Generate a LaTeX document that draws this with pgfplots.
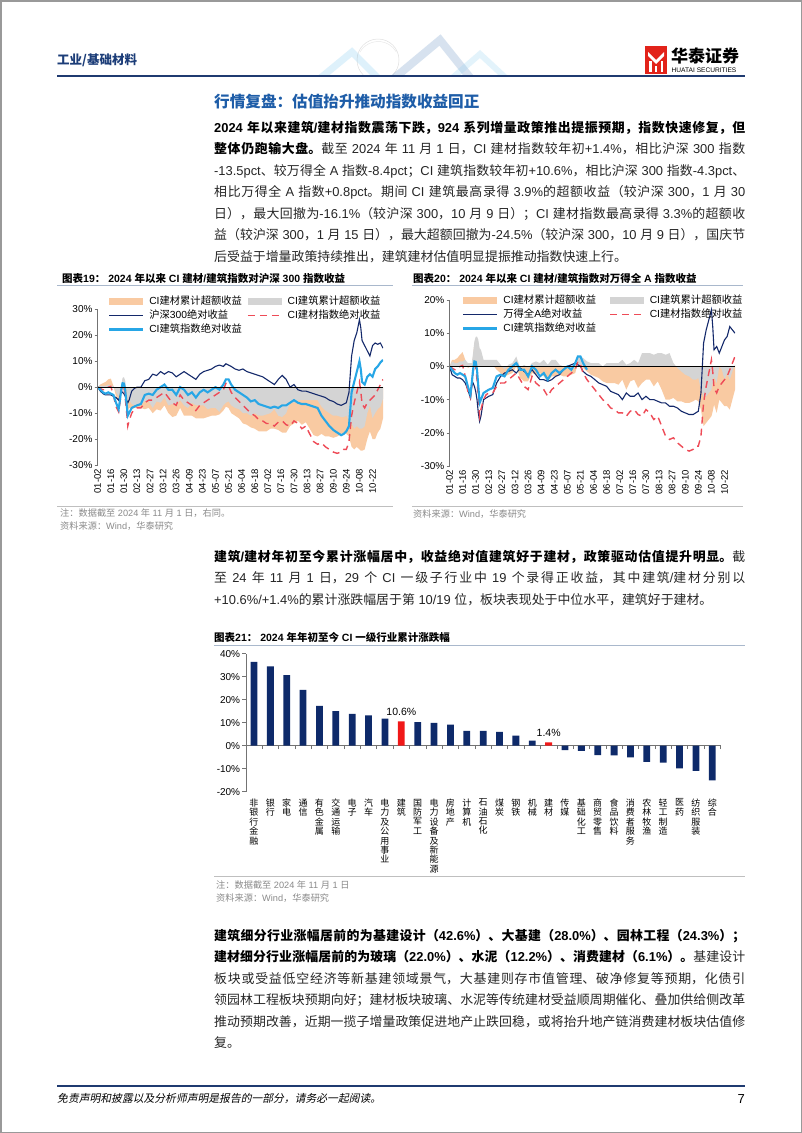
\documentclass[border=0pt]{standalone}
\usepackage{fontspec}
\setmainfont{Liberation Sans}
\newfontfamily\cjkfont{Noto Sans CJK SC}
\newfontfamily\cjkslant{Noto Sans CJK SC}[FakeSlant=0.2]
\usepackage{pgfplots}
\usepackage{pgfplotstable}
\pgfplotsset{compat=1.18}

% CJK characters switch to the CJK family, Latin goes back to Liberation Sans
\XeTeXlinebreaklocale "zh"
\XeTeXlinebreakskip=0pt plus 2pt
\newXeTeXintercharclass\cjkclass
\newcount\cc
\cc="4E00 \loop \XeTeXcharclass\cc=\cjkclass \advance\cc by 1 \ifnum\cc<"A000 \repeat
\cc="3000 \loop \XeTeXcharclass\cc=\cjkclass \advance\cc by 1 \ifnum\cc<"3040 \repeat
\cc="FF00 \loop \XeTeXcharclass\cc=\cjkclass \advance\cc by 1 \ifnum\cc<"FFF0 \repeat
\XeTeXinterchartoks 0 \cjkclass={\cjkfont}
\XeTeXinterchartoks 4095 \cjkclass={\cjkfont}
\XeTeXinterchartoks \cjkclass 0={\rmfamily}
\XeTeXinterchartoks \cjkclass 4095={\rmfamily}
\XeTeXinterchartokenstate=1
\tolerance=9999

\definecolor{navyline}{HTML}{14296B}
\definecolor{barnavy}{HTML}{0E2A6A}
\definecolor{barred}{HTML}{F01818}
\definecolor{ltblue}{HTML}{27A6E6}
\definecolor{reddash}{HTML}{EE4B57}
\definecolor{orangefill}{HTML}{F9CAA2}
\definecolor{grayfill}{HTML}{D4D4D4}
\definecolor{headblue}{HTML}{1C3D78}
\definecolor{secblue}{HTML}{1E5DA8}
\definecolor{ruleblue}{HTML}{A9B8CC}
\definecolor{footnavy}{HTML}{1F3A70}
\definecolor{logored}{HTML}{E2231A}
\definecolor{notegray}{HTML}{8A8A8A}

\newcommand\bodyfont{\fontsize{12.9}{21.5}\selectfont}
% vertical category labels: fixed line pitch
\newcommand\lblfont{\fontsize{9}{9.4}\selectfont\lineskiplimit-20pt\relax}

% d: trading day index from 2024-01-02
% hs: CSI300, wa: Wind All A, jz: CI construction, jc: CI building materials
% e1*: excess vs CSI300, e2*: excess vs Wind All A
\pgfplotstableread{
d hs wa jz jc e1z e1c e2z e2c
0 0 0 0 0 0 0 0 0
2 -1.5 -2.5 -1 -0.5 0.5 1 1.5 2
4 -2.5 -3 -2 -1 0.5 1.5 1 2
6 -3 -3.5 -2.5 -1 0.5 2 1 2.5
8 -3 -3.5 -2 0 1 3 1.5 3.5
10 -3 -4 -2.5 0.3 0.5 3.3 1.5 4.3
12 -3.5 -5 -3 -3 0.5 0.5 2 2
14 -4 -7 -6 -7.5 -2 -3.5 1 -0.5
16 -5 -9.5 -8.5 -9.5 -3.5 -4.5 1 0
17 -3.5 -6 -5 -6 -1.5 -2.5 1 0
18 -1.5 -5 -1 -2 0.5 -0.5 4 3
19 -2 -6 1.5 1 3.5 3 7.5 7
20 -2.5 -7.5 1.4 0 3.9 2.5 8.9 7.5
21 -3.5 -10 -1 -4 2.5 -0.5 9 6
22 -5 -14 -6 -9 -1 -4 8 5
23 -6 -16.5 -11 -15 -5 -9 5.5 1.5
24 -5 -15 -10 -13 -5 -8 5 2
26 -1.5 -10 -8 -10 -6.5 -8.5 2 0
28 -0.5 -9.5 -7.5 -8.5 -7 -8 2 1
30 0 -9 -7 -8 -7 -8 2 1
33 0 -8.5 -6.5 -8 -6.5 -8 2 0.5
36 2.5 -5 -3 -6 -5.5 -8.5 2 -1
39 3 -3 -2.5 -5 -5.5 -8 0.5 -2
42 5 -2 -3 -5 -8 -10 -1 -3
45 4.5 -1.5 -1 -4 -5.5 -8.5 0.5 -2.5
48 6 -1 0 -3 -6 -9 1 -2
51 5 -2 1 -2 -4 -7 3 0
54 6 -0.5 -1 -4 -7 -10 -0.5 -3.5
57 5.5 -1.5 -1 -6 -6.5 -11.5 0.5 -4.5
60 4 -2.5 -3 -7 -7 -11 -0.5 -4.5
63 5 -1 0 -3 -5 -8 1 -2
66 6 -2.5 -1 -5 -7 -11 1.5 -2.5
69 5 -4 -3 -6 -8 -11 1 -2
72 4 -4 -2 -7 -6 -11 2 -3
75 3 -4.5 -4 -9 -7 -12 0.5 -4.5
78 5 -4 -2 -7 -7 -12 2 -3
81 6 -3 -1 -6 -7 -12 2 -3
84 6.5 -2.5 -2 -5 -8.5 -11.5 0.5 -2.5
87 7 -1 -1 -4 -8 -11 0 -3
90 8 0 0 -3 -8 -11 0 -3
93 8.5 0.5 -1 -2 -9.5 -10.5 -1.5 -2.5
96 8 1 1 -1 -7 -9 0 -2
98 9 0.5 3 1.5 -6 -7.5 2.5 1
100 8.5 0 3 0.5 -5.5 -8 3 0.5
102 8 -1.5 1 -2 -7 -10 2.5 -0.5
105 7 -2.5 -1 -4 -8 -11 1.5 -1.5
108 6.5 -3 -2 -5.5 -8.5 -12 1 -2.5
111 7 -4 -3 -7 -10 -14 1 -3
114 6 -5 -4 -8.5 -10 -14.5 1 -3.5
117 5.5 -5.5 -5.5 -10 -11 -15.5 0 -4.5
120 5 -6 -5 -11 -10 -16 1 -5
123 4.5 -7.5 -6.5 -12.5 -11 -17 1 -5
126 4 -8 -7 -13 -11 -17 1 -5
129 3 -8.5 -7.5 -14 -10.5 -17 1 -5.5
132 2 -10 -8 -14 -10 -16 2 -4
135 1 -8 -7.5 -15 -8.5 -16 0.5 -7
138 3 -9 -8 -13.5 -11 -16.5 1 -4.5
141 4.5 -9 -7 -13 -11.5 -17.5 2 -4
144 3 -8 -7 -14.5 -10 -17.5 1 -6.5
147 0 -10 -6 -15 -6 -15 4 -5
150 1 -9 -5 -13 -6 -14 4 -4
153 -1 -10 -6 -14 -5 -13 4 -4
156 -1.5 -10 -6.5 -16 -5 -14.5 3.5 -6
159 -1.5 -10.5 -6.5 -15 -5 -13.5 4 -4.5
162 -2 -11 -7 -18 -5 -16 4 -7
165 -2.5 -11 -7.5 -21 -5 -18.5 3.5 -10
168 -3 -12 -8 -22 -5 -19 4 -10
171 -3.5 -12 -11 -21.5 -7.5 -18 1 -9.5
174 -4 -12.5 -13 -23 -9 -19 -0.5 -10.5
177 -5 -13.5 -15 -24 -10 -19 -1.5 -10.5
180 -5.5 -14 -16.5 -25 -11 -19.5 -2.5 -11
183 -6.5 -14.5 -17.5 -25.5 -11 -19 -3 -11
186 -7 -14.5 -18.5 -25 -11.5 -18 -4 -10.5
188 -6.5 -14 -18 -24 -11.5 -17.5 -4 -10
190 -6 -13.5 -17 -24 -11 -18 -3.5 -10.5
192 -2 -8 -15 -21 -13 -19 -7 -13
194 12 7 -2 -11 -14 -23 -9 -18
196 18 11 2 -6 -16 -24 -9 -17
198 21 14 6 -2 -15 -23 -8 -16
200 26 17 10 2 -16 -24 -7 -15
201 23 12 7 -1.5 -16 -24.5 -5 -13.5
202 18 5 2 -6.5 -16 -24.5 -3 -11.5
204 16 6 1 -8 -15 -24 -5 -14
206 14 4 4 -6 -10 -20 0 -10
208 12 6 5 -5 -7 -17 -1 -11
210 16 8 4 -4 -12 -20 -4 -12
212 17 9 7 -3 -10 -20 -2 -12
214 16.5 12 8 -1 -8.5 -17.5 -4 -13
216 17 11 9.5 1 -7.5 -16 -1.5 -10
218 15 10 10.5 3 -4.5 -12 0.5 -7
}\retdata

\pgfplotsset{
  areaimg/.style={legend image code/.code={\fill[##1] (0pt,-3.5pt) rectangle (34pt,3.5pt);}},
  lineimg/.style={legend image code/.code={\draw[##1] (0pt,0pt) -- (34pt,0pt);}},
  linechart/.style={
    scale only axis, xmin=0, xmax=218, axis on top,
    axis y line*=left, axis x line*=bottom,
    x axis line style={draw=none},
    y axis line style={draw=black!55, line width=0.6pt},
    xtick={0,10,...,210},
    xticklabels={01-02,01-16,01-30,02-13,02-27,03-12,03-26,04-09,04-23,05-07,05-21,06-04,06-18,07-02,07-16,07-30,08-13,08-27,09-10,09-24,10-08,10-22},
    xticklabel style={rotate=90, anchor=east, font=\fontsize{9.5}{11}\selectfont, inner sep=1pt},
    x tick style={draw=none},
    y tick style={draw=black!55, line width=0.6pt},
    tick align=outside, major tick length=3pt,
    yticklabel style={font=\fontsize{10}{12}\selectfont, inner sep=2pt},
    extra y ticks={0}, extra y tick labels={},
    extra y tick style={grid=major, major grid style={black, line width=0.7pt}},
    legend columns=2, legend cell align=left,
    legend style={anchor=north west, draw=none, fill=none, inner sep=0pt,
      font=\fontsize{10.3}{12}\selectfont, row sep=3.5pt,
      nodes={inner sep=0pt, text height=8pt, text depth=2.5pt},
      /tikz/column sep=0pt,
      /tikz/every odd column/.append style={column sep=5pt}},
  },
}

\begin{document}
\begin{tikzpicture}
\fill[white] (0pt,0pt) rectangle (802pt,-1133pt);
\path[use as bounding box] (0pt,0pt) rectangle (802pt,-1133pt);
\draw[black!40, line width=1.5pt] (0.75pt,-0.75pt) rectangle (801.25pt,-1132.25pt);

% header watermark
\begin{scope}[opacity=0.25]
\clip (0pt,-25pt) rectangle (802pt,-75pt);
\draw[line width=7pt, color=ltblue!60] (318pt,-80pt) -- (352pt,-52pt) -- (380pt,-80pt);
\draw[line width=8pt, color=secblue!70] (392pt,-80pt) -- (440pt,-40pt) -- (472pt,-80pt);
\draw[line width=6pt, color=ltblue!50] (450pt,-80pt) -- (480pt,-54pt) -- (508pt,-80pt);
\draw[black!50, line width=0.5pt] (378pt,-60pt) circle (21pt);
\draw[black!40, line width=0.4pt] (360pt,-52pt) arc (150:30:21pt);
\end{scope}

% header
\node[anchor=west, inner sep=0pt, text=headblue] at (57pt,-60pt)
  {\XeTeXinterchartokenstate=0 \cjkfont\bfseries\fontsize{12.5}{14}\selectfont 工业/基础材料};
\draw[footnavy, line width=2pt] (57pt,-76pt) -- (745pt,-76pt);
\fill[logored] (645pt,-46pt) rectangle (667pt,-74pt);
\fill[white] (648pt,-52pt) -- (656pt,-60pt) -- (664pt,-52pt) -- (664pt,-56pt) -- (656pt,-64pt) -- (648pt,-56pt) -- cycle;
\fill[white] (649pt,-61pt) rectangle (651.5pt,-72pt);
\fill[white] (660.5pt,-61pt) rectangle (663pt,-72pt);
\fill[white] (655pt,-66pt) rectangle (657pt,-72pt);
\node[anchor=west, inner sep=0pt] at (671pt,-56pt)
  {\bfseries\fontsize{17}{18}\selectfont 华泰证券};
\node[anchor=west, inner sep=0pt] at (671.5pt,-70.5pt)
  {\fontsize{6.6}{7}\selectfont HUATAI SECURITIES};

% section heading
\node[anchor=base west, inner sep=0pt, text=secblue] at (214pt,-107pt)
  {\bfseries\fontsize{15.6}{18}\selectfont 行情复盘：估值抬升推动指数收益回正};

% paragraph 1
\node[anchor=base west, inner sep=0pt, text width=531pt, align=justify, font=\bodyfont, text=black!85] at (214pt,-132pt)
{{\bfseries\color{black}2024 年以来建筑/建材指数震荡下跌，924 系列增量政策推出提振预期，指数快速修复，但\linebreak
整体仍跑输大盘。}截至 2024 年 11 月 1 日，CI 建材指数较年初+1.4\%，相比沪深 300 指数\linebreak
-13.5pct、较万得全 A 指数-8.4pct；CI 建筑指数较年初+10.6\%，相比沪深 300 指数-4.3pct、\linebreak
相比万得全 A 指数+0.8pct。期间 CI 建筑最高录得 3.9\%的超额收益（较沪深 300，1 月 30\linebreak
日），最大回撤为-16.1\%（较沪深 300，10 月 9 日）；CI 建材指数最高录得 3.3\%的超额收\linebreak
益（较沪深 300，1 月 15 日），最大超额回撤为-24.5\%（较沪深 300，10 月 9 日），国庆节\linebreak
后受益于增量政策持续推出，建筑建材估值明显提振推动指数快速上行。};

% chart titles and rules
\node[anchor=west, inner sep=0pt] at (62pt,-278pt)
  {\bfseries\fontsize{10.5}{12}\selectfont 图表19：\ 2024 年以来 CI 建材/建筑指数对沪深 300 指数收益};
\draw[ruleblue, line width=0.8pt] (57pt,-285pt) -- (393pt,-285pt);
\node[anchor=west, inner sep=0pt] at (413pt,-278pt)
  {\bfseries\fontsize{10.5}{12}\selectfont 图表20：\ 2024 年以来 CI 建材/建筑指数对万得全 A 指数收益};
\draw[ruleblue, line width=0.8pt] (412pt,-285pt) -- (743pt,-285pt);

% chart 19
\begin{axis}[linechart, at={(97.7pt,-465pt)}, anchor=south west,
  width=285.3pt, height=155.7pt, ymin=-30, ymax=30,
  ytick={-30,-20,...,30}, yticklabels={-30\%,-20\%,-10\%,0\%,10\%,20\%,30\%},
  legend style={at={(0.036,1.085)}}]
\addplot[areaimg, fill=orangefill, draw=none] table[x=d, y=e1c] {\retdata} \closedcycle;
\addlegendentry{\makebox[98pt][l]{CI建材累计超额收益}}
\addplot[areaimg, fill=grayfill, draw=none] table[x=d, y=e1z] {\retdata} \closedcycle;
\addlegendentry{CI建筑累计超额收益}
\addplot[lineimg, navyline, line width=1.1pt] table[x=d, y=hs] {\retdata};
\addlegendentry{\makebox[98pt][l]{沪深300绝对收益}}
\addplot[lineimg, reddash, line width=1.4pt, dash pattern=on 7pt off 5pt] table[x=d, y=jc] {\retdata};
\addlegendentry{CI建材指数绝对收益}
\addplot[lineimg, ltblue, line width=2.1pt] table[x=d, y=jz] {\retdata};
\addlegendentry{CI建筑指数绝对收益}
\end{axis}

% chart 20
\begin{axis}[linechart, at={(449.5pt,-466pt)}, anchor=south west,
  width=285.5pt, height=166pt, ymin=-30, ymax=20,
  ytick={-30,-20,...,20}, yticklabels={-30\%,-20\%,-10\%,0\%,10\%,20\%},
  legend style={at={(0.044,1.030)}}]
\addplot[areaimg, fill=orangefill, draw=none] table[x=d, y=e2c] {\retdata} \closedcycle;
\addlegendentry{\makebox[106pt][l]{CI建材累计超额收益}}
\addplot[areaimg, fill=grayfill, draw=none] table[x=d, y=e2z] {\retdata} \closedcycle;
\addlegendentry{CI建筑累计超额收益}
\addplot[lineimg, navyline, line width=1.1pt] table[x=d, y=wa] {\retdata};
\addlegendentry{\makebox[106pt][l]{万得全A绝对收益}}
\addplot[lineimg, reddash, line width=1.4pt, dash pattern=on 7pt off 5pt] table[x=d, y=jc] {\retdata};
\addlegendentry{CI建材指数绝对收益}
\addplot[lineimg, ltblue, line width=2.1pt, restrict x to domain=0:105] table[x=d, y=jz] {\retdata};
\addlegendentry{CI建筑指数绝对收益}
\end{axis}

% notes under charts 19/20
\draw[black!25, line width=0.6pt] (57pt,-506.5pt) -- (393pt,-506.5pt);
\draw[black!25, line width=0.6pt] (412pt,-506.5pt) -- (743pt,-506.5pt);
\node[anchor=west, inner sep=0pt, text=notegray] at (60pt,-513pt)
  {\fontsize{9.2}{10}\selectfont 注：数据截至 2024 年 11 月 1 日，右同。};
\node[anchor=west, inner sep=0pt, text=notegray] at (60pt,-526pt)
  {\fontsize{9.2}{10}\selectfont 资料来源：Wind，华泰研究};
\node[anchor=west, inner sep=0pt, text=notegray] at (413pt,-514pt)
  {\fontsize{9.2}{10}\selectfont 资料来源：Wind，华泰研究};

% paragraph 2
\node[anchor=base west, inner sep=0pt, text width=531pt, align=justify, font=\bodyfont, text=black!85] at (214pt,-561pt)
{{\bfseries\color{black}建筑/建材年初至今累计涨幅居中，收益绝对值建筑好于建材，政策驱动估值提升明显。}截\linebreak
至 24 年 11 月 1 日，29 个 CI 一级子行业中 19 个录得正收益，其中建筑/建材分别以\linebreak
+10.6\%/+1.4\%的累计涨跌幅居于第 10/19 位，板块表现处于中位水平，建筑好于建材。};

% chart 21
\node[anchor=west, inner sep=0pt] at (214pt,-637pt)
  {\bfseries\fontsize{10.5}{12}\selectfont 图表21：\ 2024 年年初至今 CI 一级行业累计涨跌幅};
\draw[ruleblue, line width=0.8pt] (214pt,-645pt) -- (745pt,-645pt);

\begin{axis}[at={(245.8pt,-791.7pt)}, anchor=south west, scale only axis,
  width=474.7pt, height=138pt, xmin=-0.5, xmax=28.5, ymin=-20, ymax=40,
  axis x line=middle, axis y line=left,
  x axis line style={-, draw=black!55, line width=0.6pt},
  y axis line style={-, draw=black!55, line width=0.6pt},
  tick align=outside, major tick length=3.5pt,
  tick style={draw=black!55, line width=0.6pt},
  ytick={-20,-10,...,40}, yticklabels={-20\%,-10\%,0\%,10\%,20\%,30\%,40\%},
  yticklabel style={font=\fontsize{10}{12}\selectfont, inner sep=2pt},
  xtick={-0.5,0.5,...,28.5}, xticklabels={},
  extra x ticks={0,1,...,28},
  extra x tick style={major tick length=0pt},
  extra x tick labels={非\\银\\行\\金\\融,银\\行,家\\电,通\\信,有\\色\\金\\属,交\\通\\运\\输,电\\子,汽\\车,电\\力\\及\\公\\用\\事\\业,建\\筑,国\\防\\军\\工,电\\力\\设\\备\\及\\新\\能\\源,房\\地\\产,计\\算\\机,石\\油\\石\\化,煤\\炭,钢\\铁,机\\械,建\\材,传\\媒,基\\础\\化\\工,商\\贸\\零\\售,食\\品\\饮\\料,消\\费\\者\\服\\务,农\\林\\牧\\渔,轻\\工\\制\\造,医\\药,纺\\织\\服\\装,综\\合},
  xticklabel style={anchor=north, align=center, yshift=-53pt, inner sep=0pt,
    font=\lblfont},
  /pgf/number format/assume math mode=true,
  clip=false]
\addplot[ybar, bar width=6.8pt, bar shift=0pt, fill=barnavy, draw=none] coordinates {
  (0,36.4) (1,34.5) (2,30.7) (3,24.3) (4,17.3) (5,15.0) (6,13.8) (7,13.2) (8,11.8)
  (10,10.3) (11,9.9) (12,9.2) (13,6.5) (14,6.5) (15,6.0) (16,4.4) (17,2.2)
  (19,-1.9) (20,-2.2) (21,-4.1) (22,-4.2) (23,-5.1) (24,-7.0) (25,-7.4)
  (26,-9.9) (27,-10.9) (28,-15.1)};
\addplot[ybar, bar width=6.8pt, bar shift=0pt, fill=barred, draw=none,
  nodes near coords={\pgfmathprintnumber[fixed,fixed zerofill,precision=1]{\pgfplotspointmeta}\%},
  nodes near coords style={font=\fontsize{10.5}{12}\selectfont, text=black, yshift=2pt}]
  coordinates {(9,10.6) (18,1.4)};
\end{axis}

\draw[black!25, line width=0.6pt] (214pt,-876.7pt) -- (745pt,-876.7pt);
\node[anchor=west, inner sep=0pt, text=notegray] at (216pt,-885pt)
  {\fontsize{9.2}{10}\selectfont 注：数据截至 2024 年 11 月 1 日};
\node[anchor=west, inner sep=0pt, text=notegray] at (216pt,-898pt)
  {\fontsize{9.2}{10}\selectfont 资料来源：Wind，华泰研究};

% paragraph 3
\node[anchor=base west, inner sep=0pt, text width=531pt, align=justify, font=\bodyfont, text=black!85] at (214pt,-940pt)
{{\bfseries\color{black}建筑细分行业涨幅居前的为基建设计（42.6\%）、大基建（28.0\%）、园林工程（24.3\%）；\linebreak
建材细分行业涨幅居前的为玻璃（22.0\%）、水泥（12.2\%）、消费建材（6.1\%）。}基建设计\linebreak
板块或受益低空经济等新基建领域景气，大基建则存市值管理、破净修复等预期，化债引\linebreak
领园林工程板块预期向好；建材板块玻璃、水泥等传统建材受益顺周期催化、叠加供给侧改革\linebreak
推动预期改善，近期一揽子增量政策促进地产止跌回稳，或将抬升地产链消费建材板块估值修\linebreak
复。};

% footer
\draw[footnavy, line width=2pt] (57pt,-1086pt) -- (745pt,-1086pt);
\node[anchor=west, inner sep=0pt] at (57pt,-1099pt)
  {\XeTeXinterchartokenstate=0 \cjkslant\fontsize{10.8}{12}\selectfont 免责声明和披露以及分析师声明是报告的一部分，请务必一起阅读。};
\node[anchor=east, inner sep=0pt] at (745pt,-1099pt) {\fontsize{13}{14}\selectfont 7};
\end{tikzpicture}
\end{document}
